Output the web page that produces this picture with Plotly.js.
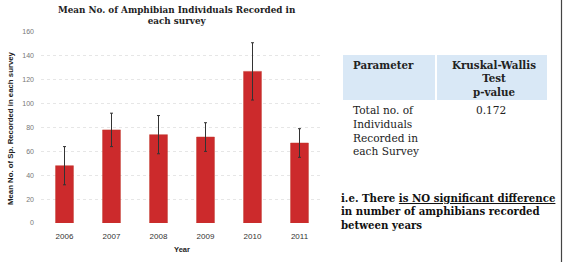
<!DOCTYPE html>
<html>
<head>
<meta charset="utf-8">
<script src="https://cdn.plot.ly/plotly-3.0.1.min.js"></script>
<style>html,body{margin:0;padding:0;background:#fff;}#chart{width:563px;height:262px;}</style>
</head>
<body>
<div id="chart"></div>
<script>
const years = ['2006', '2007', '2008', '2009', '2010', '2011'];
const meanIndividuals = [48, 78, 74, 72, 127, 67];
const errorValues = [16, 14, 16, 12, 24, 12];
const yTicks = [0, 20, 40, 60, 80, 100, 120, 140, 160];
const chartTitle = 'Mean No. of Amphibian Individuals Recorded in<br>each survey';
const tableHeader = ['Parameter', 'Kruskal-Wallis<br>Test<br>p-value'];
const tableRow = ['Total no. of<br>Individuals<br>Recorded in<br>each Survey', '0.172'];
const conclusion = 'i.e. There <u>is NO significant difference</u><br>in number of amphibians recorded<br>between years';

const W = 563, H = 262;
const L = 41, R = 323, T = 32, B = 223;
const px = x => (x - L) / (R - L);
const py = y => (B - y) / (B - T);
const serif = 'DejaVu Serif, serif';
const sans = 'Liberation Sans, Arial, sans-serif';

const trace = {
  type: 'bar',
  x: years,
  y: meanIndividuals,
  marker: {color: '#cc2a2c', line: {color: '#c0392b', width: 0.5}},
  error_y: {type: 'data', array: errorValues, visible: true, color: '#333', thickness: 1, width: 1.5},
  hoverinfo: 'none'
};

const layout = {
  width: W, height: H,
  margin: {l: L, r: W - R, t: T, b: H - B, pad: 0},
  paper_bgcolor: '#fff', plot_bgcolor: '#fff',
  showlegend: false,
  bargap: 0.62,
  xaxis: {
    type: 'category',
    tickfont: {family: sans, size: 8, color: '#333'},
    ticklabelstandoff: 7,
    ticks: '', showline: false, showgrid: false, zeroline: false,
    title: {text: '<b>Year</b>', font: {family: sans, size: 7.5, color: '#222'}, standoff: 6}
  },
  yaxis: {
    range: [0, 160], tickvals: yTicks,
    tickfont: {family: sans, size: 7, color: '#777'},
    ticklabelstandoff: 6,
    ticks: '', showline: false, zeroline: false,
    showgrid: true, gridcolor: '#e6e6e6', griddash: 'dot', gridwidth: 1
  },
  shapes: [
    {type: 'rect', xref: 'paper', yref: 'paper', x0: px(343), x1: px(435), y0: py(100), y1: py(55), fillcolor: '#d9e8f6', line: {width: 0}, layer: 'below'},
    {type: 'rect', xref: 'paper', yref: 'paper', x0: px(437), x1: px(547), y0: py(100), y1: py(55), fillcolor: '#d9e8f6', line: {width: 0}, layer: 'below'},
    {type: 'line', xref: 'paper', yref: 'paper', x0: px(561.5), x1: px(561.5), y0: py(0), y1: py(262), line: {color: '#444', width: 1.2}}
  ],
  annotations: [
    {xref: 'paper', yref: 'paper', x: px(177), y: py(3), xanchor: 'center', yanchor: 'top', align: 'center', showarrow: false,
     text: '<b>' + chartTitle + '</b>', font: {family: serif, size: 8.8, color: '#222'}},
    {xref: 'paper', yref: 'paper', x: px(10), y: py(128), xanchor: 'center', yanchor: 'middle', textangle: -90, showarrow: false,
     text: '<b>Mean No. of Sp. Recorded in each survey</b>', font: {family: sans, size: 7.8, color: '#222'}},
    {xref: 'paper', yref: 'paper', x: px(351), y: py(57), xanchor: 'left', yanchor: 'top', align: 'left', showarrow: false,
     text: '<b>' + tableHeader[0] + '</b>', font: {family: serif, size: 10.3, color: '#222'}},
    {xref: 'paper', yref: 'paper', x: px(494), y: py(57), xanchor: 'center', yanchor: 'top', align: 'center', showarrow: false,
     text: '<b>' + tableHeader[1] + '</b>', font: {family: serif, size: 10.3, color: '#222'}},
    {xref: 'paper', yref: 'paper', x: px(351), y: py(102), xanchor: 'left', yanchor: 'top', align: 'left', showarrow: false,
     text: tableRow[0], font: {family: serif, size: 10.6, color: '#222'}},
    {xref: 'paper', yref: 'paper', x: px(491), y: py(102), xanchor: 'center', yanchor: 'top', align: 'center', showarrow: false,
     text: tableRow[1], font: {family: serif, size: 10.6, color: '#222'}},
    {xref: 'paper', yref: 'paper', x: px(339), y: py(190), xanchor: 'left', yanchor: 'top', align: 'left', showarrow: false,
     text: '<b>' + conclusion + '</b>', font: {family: serif, size: 10.2, color: '#111'}}
  ]
};

Plotly.newPlot('chart', [trace], layout, {staticPlot: true, displayModeBar: false});
</script>
</body>
</html>
